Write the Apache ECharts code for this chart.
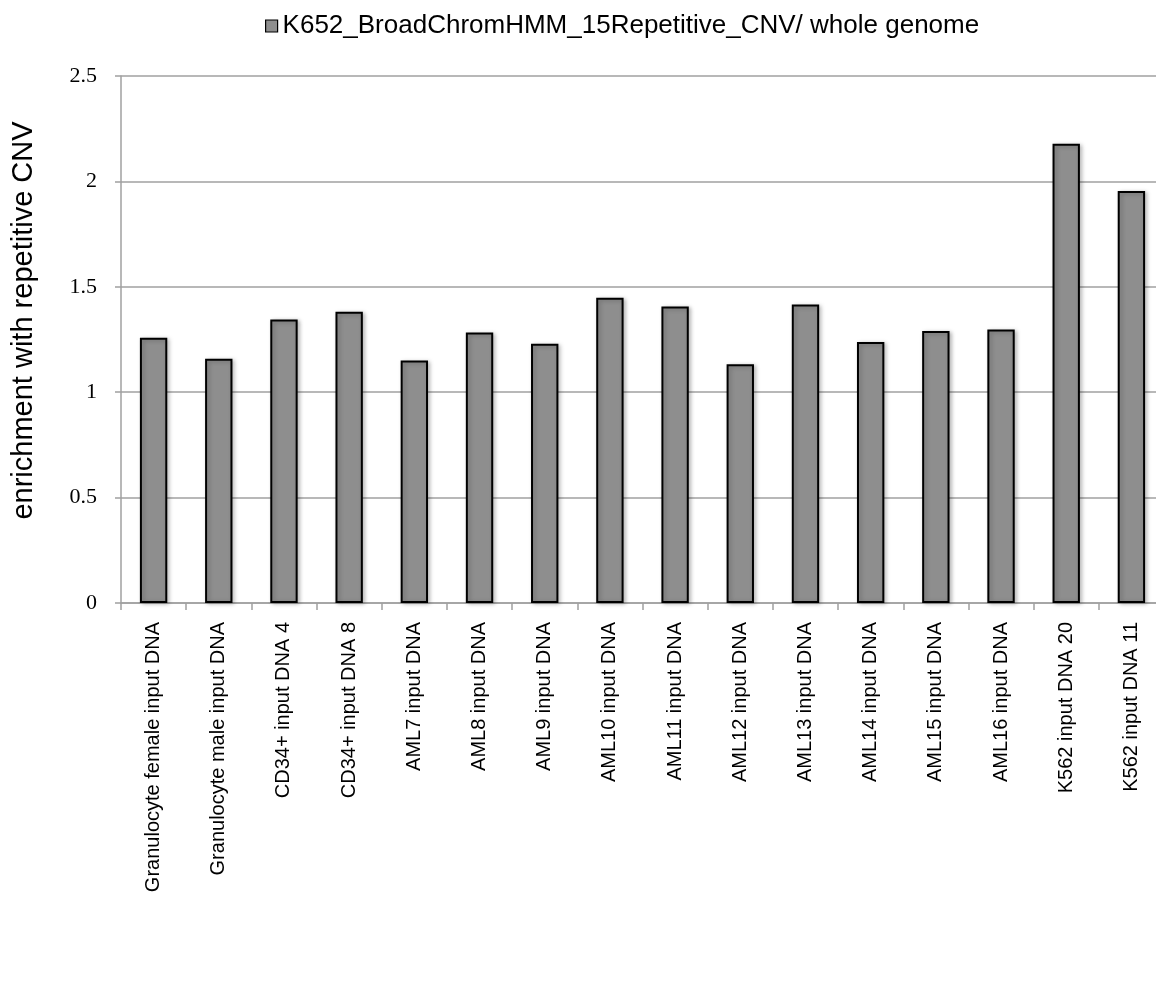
<!DOCTYPE html>
<html><head><meta charset="utf-8">
<script src="https://cdn.jsdelivr.net/npm/echarts@6/dist/echarts.min.js"></script>
<style>html,body{margin:0;padding:0;background:#fff}#c{width:1156px;height:982px}</style>
</head><body><div id="c"></div>
<script>
const categories = ["Granulocyte female input DNA","Granulocyte male input DNA","CD34+ input DNA 4","CD34+ input DNA 8","AML7 input DNA","AML8 input DNA","AML9 input DNA","AML10 input DNA","AML11 input DNA","AML12 input DNA","AML13 input DNA","AML14 input DNA","AML15 input DNA","AML16 input DNA","K562 input DNA 20","K562 input DNA 11"];
const values = [1.258,1.159,1.345,1.382,1.150,1.283,1.230,1.448,1.407,1.133,1.416,1.238,1.290,1.297,2.179,1.955];
const yTicks = {min:0, max:2.5, interval:0.5};
const seriesName = "K652_BroadChromHMM_15Repetitive_CNV/ whole genome";
const yAxisTitle = "enrichment with repetitive CNV";

const chart = echarts.init(document.getElementById('c'), null, {renderer:'canvas'});
chart.setOption({
  animation:false,
  legend:{
    top:8, left:260,
    itemWidth:12, itemHeight:12, itemGap:6,
    icon:'rect',
    textStyle:{fontFamily:'Liberation Sans', fontSize:26, color:'#000'},
    data:[{name:seriesName, itemStyle:{color:'#8e8e8e', borderColor:'#000', borderWidth:1.2}}]
  },
  grid:{left:121, width:1043, top:76, height:527, containLabel:false, outerBoundsMode:'none'},
  xAxis:{
    type:'category', data:categories,
    axisLine:{lineStyle:{color:'#a0a0a0', width:1.5}},
    axisTick:{show:true, length:7, alignWithLabel:false, lineStyle:{color:'#a0a0a0', width:1.5}},
    axisLabel:{rotate:90, interval:0, margin:19, fontFamily:'Liberation Sans', fontSize:20, color:'#000'}
  },
  yAxis:{
    type:'value', min:yTicks.min, max:yTicks.max, interval:yTicks.interval,
    name:yAxisTitle, nameLocation:'middle', nameGap:83, nameRotate:90,
    nameTextStyle:{fontFamily:'Liberation Sans', fontSize:29, color:'#000', padding:[0,0,0,38]},
    axisLine:{show:true, lineStyle:{color:'#a0a0a0', width:1.5}},
    axisTick:{show:true, inside:false, length:6, lineStyle:{color:'#a0a0a0', width:1.5}},
    axisLabel:{margin:24, fontFamily:'Liberation Serif', fontSize:22, color:'#000'},
    splitLine:{show:true, lineStyle:{color:'#a0a0a0', width:1.5}}
  },
  series:[{
    name:seriesName, type:'bar', data:values, barWidth:'42%',
    itemStyle:{color:'#8e8e8e', borderColor:'#000', borderWidth:2,
      shadowColor:'rgba(0,0,0,0.25)', shadowBlur:4, shadowOffsetX:2, shadowOffsetY:1}
  }]
});
</script></body></html>
